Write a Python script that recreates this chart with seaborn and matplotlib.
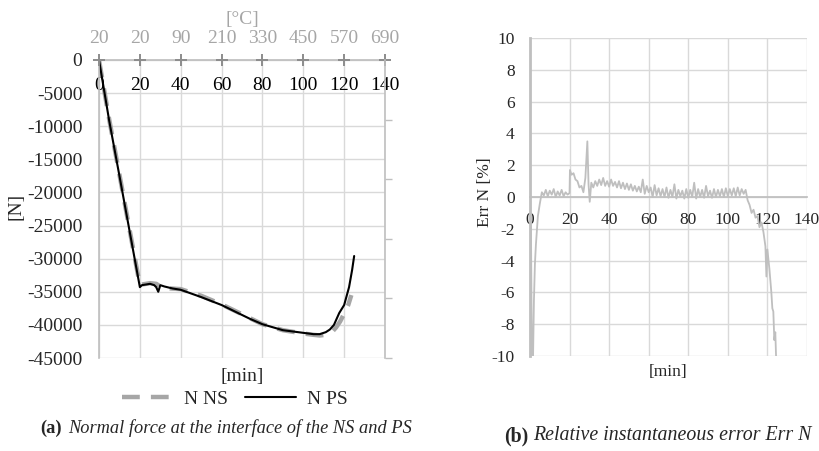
import numpy as np
import pandas as pd
import matplotlib
matplotlib.use("Agg")
import matplotlib.pyplot as plt
import seaborn as sns

# --- data ---
ns_min = [0, 5, 10, 15, 20, 21, 25, 28, 30, 35, 40, 50, 60, 70, 80, 90, 100,
          105, 108, 111, 114, 116, 118, 120, 122, 123.5]
ns_force = [0, -9000, -17300, -25700, -34000, -33900, -33700, -33800, -34200,
            -34500, -34600, -35600, -36900, -38400, -39900, -40800, -41300,
            -41500, -41600, -41500, -41100, -40400, -39500, -38300, -37000, -35500]

ps_min = [0, 5, 10, 15, 20, 21, 23, 25, 27, 28, 29, 30, 32, 36, 40, 50, 60, 70,
          74, 80, 90, 100, 105, 108, 111, 113, 115, 117.6, 120, 122.4, 123.9, 124.9]
ps_force = [0, -9200, -17500, -25900, -34300, -34000, -33900, -33800, -34000,
            -34300, -35000, -34000, -34200, -34500, -34700, -35800, -37000,
            -38500, -39100, -39900, -40800, -41200, -41400, -41400, -41100,
            -40700, -40000, -38200, -37000, -34300, -31700, -29600]

x_ticks = [0, 20, 40, 60, 80, 100, 120, 140]
temp_labels = ["20", "20", "90", "210", "330", "450", "570", "690"]

err_min = [0, 0.5, 1.0, 1.5, 2.0, 2.5, 3.0, 3.5, 4.0, 5.0,
           6, 7, 8, 9, 10, 11, 12, 13, 14, 15, 16, 17, 18, 19, 20,
           20.2, 21, 22, 23, 24, 25, 26, 27, 28, 29, 29.6, 30.2,
           31, 32, 33, 34, 35, 36, 37, 38, 39, 40, 41, 42, 43, 44, 45,
           46, 47, 48, 49, 50, 51, 52, 53, 54, 55, 56, 57, 58, 59, 60,
           61, 62, 63, 64, 65, 66, 67, 68, 69, 70, 71, 72, 73, 74, 75,
           76, 77, 78, 79, 80, 81, 82, 83, 84, 85, 86, 87, 88, 89, 90,
           91, 92, 93, 94, 95, 96, 97, 98, 99, 100, 101, 102, 103, 104, 105,
           106, 107, 108, 109, 110, 111, 112, 113, 114, 115, 116, 117, 118,
           119, 119.5, 120, 121, 122, 122.5, 123, 123.5, 124, 124.5]
err_pct = [0.0, -2.0, -10.5, -10.5, -6.5, -4.2, -3.0, -2.1, -1.2, -0.4,
           0.3, 0.1, 0.45, 0.05, 0.4, 0.15, 0.5, 0.0, 0.35, 0.1, 0.45, 0.05, 0.3, 0.15, 0.25,
           1.7, 1.4, 1.5, 1.1, 1.0, 0.6, 0.7, 0.3, 1.2, 3.5, 0.8, -0.3,
           0.9, 0.6, 1.0, 0.7, 1.1, 0.75, 1.2, 0.7, 1.0, 0.65, 1.1, 0.7, 0.95, 0.6, 1.0,
           0.55, 0.9, 0.5, 0.85, 0.45, 0.8, 0.4, 0.7, 0.35, 0.65, 0.3, 1.1, 0.2, 0.7, 0.3,
           0.6, 0.0, 0.75, 0.1, 0.55, 0.05, 0.5, 0.0, 0.6, -0.05, 0.45, 0.0, 0.8, -0.1, 0.45,
           0.05, 0.4, -0.1, 0.5, -0.05, 0.45, 0.0, 0.9, -0.1, 0.5, 0.0, 0.45, -0.05, 0.7, 0.05,
           0.4, -0.05, 0.5, 0.0, 0.45, 0.05, 0.5, 0.0, 0.55, 0.05, 0.5, 0.1, 0.55, 0.05, 0.6,
           0.1, 0.5, 0.2, 0.45, -0.2, -0.5, -1.0, -0.8, -1.3, -1.2, -1.9, -1.6, -2.2,
           -3.1, -5.0, -3.3, -4.5, -6.0, -7.0, -7.2, -9.0, -8.5, -10.5]

# --- style ---
sns.set_theme(style="whitegrid")
plt.rcParams["font.family"] = ["Liberation Serif", "DejaVu Serif"]
plt.rcParams["axes.unicode_minus"] = False

grid_c = "#d9d9d9"
spine_c = "#bfbfbf"
grey_txt = "#a6a6a6"
fs_a = 14
fs_b = 12.5

fig = plt.figure(figsize=(8.19, 4.51), dpi=100)

# ===== (a) normal force =====
ax = fig.add_axes([0.1209, 0.2062, 0.3492, 0.6608])
df_ns = pd.DataFrame({"t": ns_min, "N": ns_force})
df_ps = pd.DataFrame({"t": ps_min, "N": ps_force})
sns.lineplot(data=df_ns, x="t", y="N", ax=ax, color="#a6a6a6", lw=3.2,
             label="N NS", estimator=None)
sns.lineplot(data=df_ps, x="t", y="N", ax=ax, color="black", lw=1.5,
             label="N PS", estimator=None)
ax.lines[0].set_dashes([4, 2.5])

ax.set_xlim(0, 140)
ax.set_ylim(-45000, 0)
ax.set_xticks(x_ticks)
ax.set_yticks(range(-45000, 1, 5000))
ax.grid(True, color=grid_c, lw=1.0)
for s in ["top", "right"]:
    ax.spines[s].set_visible(False)
ax.spines["left"].set_color(spine_c)
ax.spines["left"].set_linewidth(1.2)
# x axis crosses at N = 0 (top edge)
ax.spines["bottom"].set_position(("data", 0))
ax.spines["bottom"].set_color(spine_c)
ax.tick_params(axis="x", length=0, pad=12, labelsize=fs_a, labelcolor="black")
ax.tick_params(axis="y", length=0, pad=12, labelsize=fs_a)
ax.set_xlabel("")
ax.set_ylabel("[N]", fontsize=fs_a)
ax.yaxis.set_label_coords(-0.262, 0.507)
ax.text(0.5, -0.035, "[min]", transform=ax.transAxes, ha="center", va="top",
        fontsize=fs_a)

leg = ax.legend(loc="center", bbox_to_anchor=(0.475, -0.138), ncol=2,
                frameon=False, fontsize=fs_a, handlelength=2.6,
                columnspacing=0.9, handletextpad=0.6, borderpad=0)

# "+" tick marks of the temperature axis on the N = 0 line
ax.plot(x_ticks, [0] * len(x_ticks), linestyle="none", marker="+",
        markersize=9, markeredgewidth=1.4, color="#8c8c8c", clip_on=False,
        zorder=6)

# top temperature axis (labels only)
top = ax.twiny()
top.set_xlim(0, 140)
top.set_xticks(x_ticks)
top.set_xticklabels(temp_labels)
top.grid(False)
top.tick_params(axis="x", length=0, labelcolor=grey_txt, labelsize=fs_a, pad=9)
for s in top.spines.values():
    s.set_visible(False)
top.set_xlabel("[°C]", color=grey_txt, fontsize=fs_a, labelpad=5)

# right spine with unlabeled ticks
rgt = ax.twinx()
rgt.set_ylim(-45000, 0)
rgt.set_yticks([-45000, -36000, -27000, -18000, -9000])
rgt.set_yticklabels([])
rgt.grid(False)
rgt.tick_params(axis="y", right=True, direction="out", length=5, width=1,
                color=spine_c)
for s in ["top", "left", "bottom"]:
    rgt.spines[s].set_visible(False)
rgt.spines["right"].set_color(spine_c)
rgt.spines["right"].set_linewidth(1.2)

# ===== (b) relative error =====
bx = fig.add_axes([0.6471, 0.2106, 0.3382, 0.7051])
df_err = pd.DataFrame({"t": err_min, "err": err_pct})
sns.lineplot(data=df_err, x="t", y="err", ax=bx, color="#bfbfbf", lw=1.3,
             estimator=None)
bx.set_xlim(0, 140)
bx.set_ylim(-10, 10)
bx.set_xticks(x_ticks)
bx.set_yticks(range(-10, 11, 2))
bx.grid(True, color=grid_c, lw=1.0)
for s in ["top", "right"]:
    bx.spines[s].set_visible(False)
bx.spines["left"].set_color(spine_c)
bx.spines["left"].set_linewidth(2.0)
bx.spines["bottom"].set_position(("data", 0))
bx.spines["bottom"].set_color(spine_c)
bx.tick_params(axis="x", length=0, pad=11, labelsize=fs_b)
bx.tick_params(axis="y", length=0, pad=11, labelsize=fs_b)
bx.set_xlabel("")
bx.set_ylabel("Err N [%]", fontsize=fs_b)
bx.yaxis.set_label_coords(-0.134, 0.516)
bx.text(0.5, -0.025, "[min]", transform=bx.transAxes, ha="center", va="top",
        fontsize=fs_b)

# ===== captions =====
fig.text(40 / 819, 1 - 428 / 451, "(a)", fontweight="bold", fontsize=13.2,
         ha="left", va="center")
fig.text(68 / 819, 1 - 428 / 451, "Normal force at the interface of the NS and PS",
         style="italic", fontsize=13.2, ha="left", va="center")
fig.text(504 / 819, 1 - 436 / 451, "(b)", fontweight="bold", fontsize=14.3,
         ha="left", va="center")
fig.text(533 / 819, 1 - 436 / 451, "Relative instantaneous error Err N",
         style="italic", fontsize=14.3, ha="left", va="center")

fig.savefig("out.png", dpi=100, facecolor="white")
